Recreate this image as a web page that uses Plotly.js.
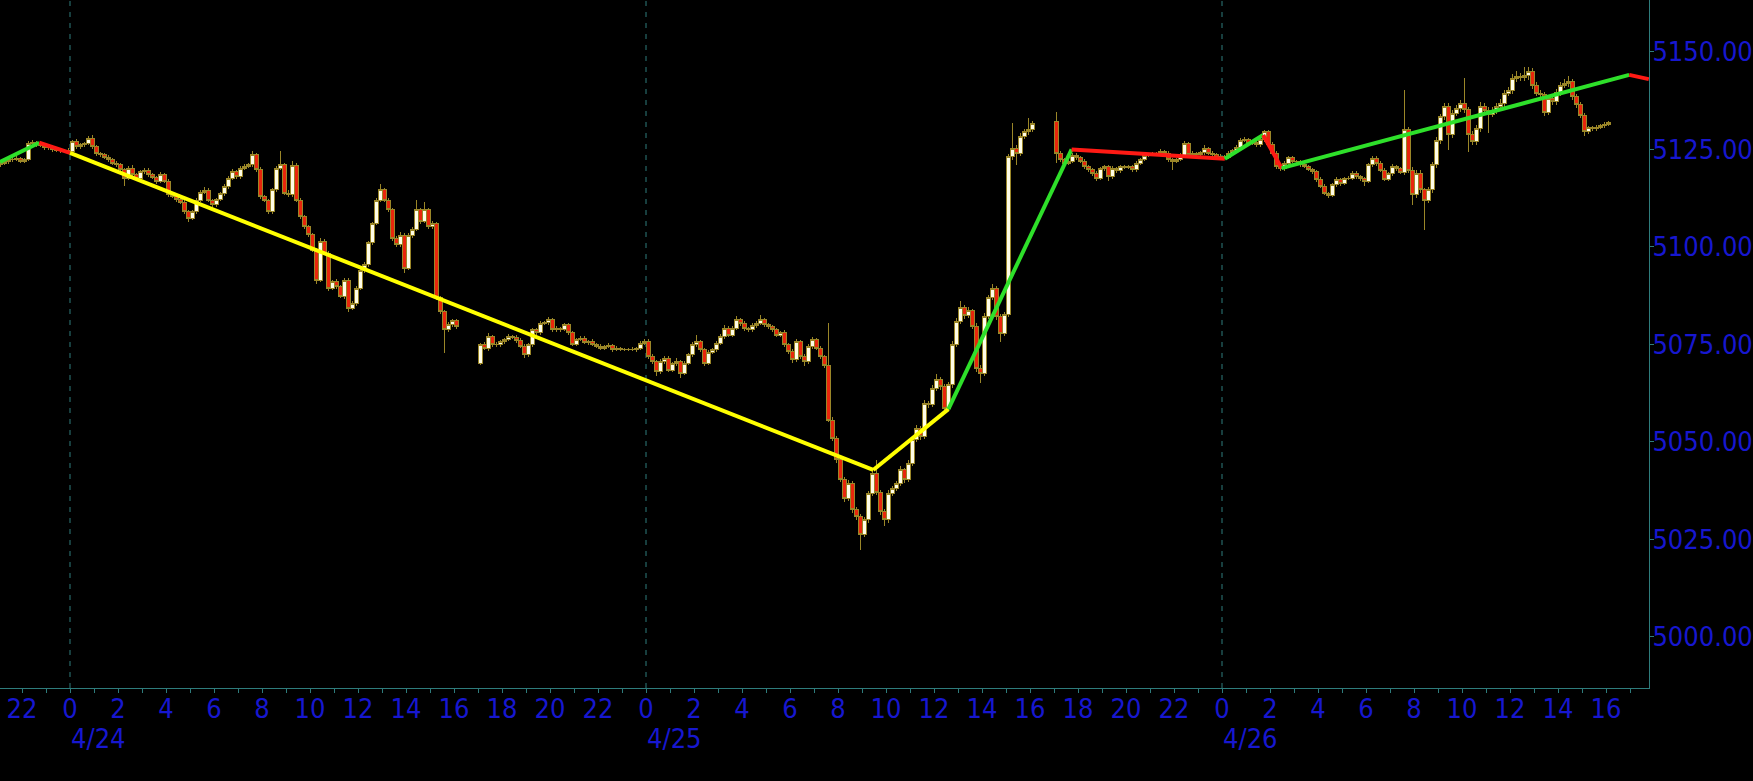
<!DOCTYPE html>
<html><head><meta charset="utf-8">
<script src="https://cdn.plot.ly/plotly-3.0.1.min.js"></script>
<style>html,body{margin:0;padding:0;background:#000;overflow:hidden}#chart{width:1753px;height:781px}
#chart .boxlayer path{shape-rendering:crispEdges}</style>
</head><body><div id="chart"></div>
<script>
// ---------- DATA (10-minute bars) ----------
const sessionAStart = '2024-04-23 21:00';
const sessionAOpen = 5121.0;
const sessionAClose = [
5121.5,5121.8,5122.3,5122.5,5122.7,5122.0,5122.3,5126.6,5126.8,5126.2,5126.0,5125.4,5125.6,5125.0,5124.8,5124.6,5124.8,5124.5,
5127.0,5125.7,5126.2,5126.5,5127.9,5125.7,5124.0,5123.6,5123.0,5122.3,
5121.5,5121.0,5119.8,5117.6,5120.2,5118.5,5117.6,5119.3,5119.7,5118.5,
5117.8,5116.8,5118.5,5116.8,5113.4,5113.0,5112.1,5111.5,5109.0,5107.4,
5109.0,5112.0,5114.0,5114.5,5112.0,5110.8,5112.1,5113.6,5115.5,5117.6,
5119.3,5118.0,5120.2,5120.6,5121.0,5123.6,5119.8,5112.9,5112.0,5109.0,
5114.6,5120.2,5121.0,5113.8,5113.4,5120.9,5112.0,5107.8,5105.2,5103.1,
5099.2,5091.5,5101.4,5098.4,5089.4,5091.0,5089.8,5087.3,5091.5,5084.3,
5085.5,5089.4,5094.0,5095.4,5101.0,5106.0,5112.0,5114.6,5112.0,5109.5,
5102.2,5100.5,5103.0,5094.5,5103.0,5104.5,5109.5,5106.5,5109.5,5105.2,
5106.0,5086.9,5083.4,5078.7,5080.0,5081.0,5079.5];
const sessionAUpWick = [
0.4,0.5,0.4,0.6,0.5,0.4,0.5,0.5,0.6,0.4,0.5,0.4,0.6,0.5,0.4,0.5,0.4,0.6,
0.5,0.6,0.4,0.5,0.5,0.8,0.5,0.4,0.6,0.5,
0.4,0.5,0.6,0.5,0.5,0.9,0.4,0.5,0.6,0.5,
0.5,0.4,0.6,0.5,0.5,0.6,0.4,0.5,0.6,0.5,
0.5,0.5,0.6,0.8,0.5,0.4,0.5,0.6,0.5,0.5,
0.6,0.5,0.5,0.6,0.5,0.9,0.5,0.6,0.5,0.4,
0.5,0.6,3.5,0.5,0.8,1.1,0.5,0.6,0.5,0.4,
0.5,0.6,0.8,0.5,0.6,0.5,0.8,0.5,0.6,0.5,
0.5,0.6,0.5,0.6,0.5,0.5,0.6,1.4,0.5,0.6,
0.5,0.6,0.8,0.5,0.5,0.6,2.5,0.5,2.0,0.5,
0.6,0.5,0.6,0.5,0.8,0.6,0.5];
const sessionADownWick = [
0.5,0.4,0.6,0.5,0.4,0.6,0.5,0.4,0.5,0.6,0.4,0.5,0.5,0.6,0.4,0.5,0.6,0.5,
0.4,0.5,0.6,0.5,0.4,0.5,0.6,0.5,0.4,0.5,
0.5,0.6,0.5,2.1,0.5,0.4,0.6,0.5,0.5,0.6,
0.5,0.6,0.5,0.5,0.6,0.5,0.5,0.6,0.6,0.9,
0.5,0.6,0.4,0.5,0.6,0.5,0.5,0.4,0.5,0.6,
0.5,0.6,0.5,0.4,0.5,0.6,0.5,0.6,0.5,0.5,
0.6,0.5,0.5,0.6,0.5,0.6,0.5,0.6,0.5,0.6,
0.6,1.0,0.5,0.6,0.8,0.5,0.6,0.5,0.6,0.9,
0.5,0.6,0.5,0.6,0.5,0.6,0.5,0.5,0.6,0.5,
0.6,0.5,0.6,1.2,0.5,0.6,0.5,0.6,0.5,0.6,
0.5,0.6,0.7,6.0,0.5,0.6,0.5];

const sessionBStart = '2024-04-24 17:00';
const sessionBOpen = 5070.2;
const sessionBClose = [
5074.9,5074.0,5077.0,5074.9,5074.9,5075.7,5076.2,5077.0,5076.8,5076.0,
5074.5,5072.3,5074.9,5078.7,5078.0,5080.4,5080.6,5081.3,5078.7,5079.0,
5078.8,5080.0,5078.0,5075.0,5076.2,5076.6,5075.5,5075.8,5074.9,5074.5,
5074.0,5074.5,5074.8,5073.6,5074.0,5073.8,5073.6,5073.8,5073.6,5074.0,
5075.3,5075.8,5071.9,5070.6,5068.0,5070.6,5071.4,5068.4,5070.0,5070.6,
5067.6,5070.2,5072.3,5074.9,5075.7,5073.6,5070.2,5073.0,5073.6,5075.3,
5077.0,5079.1,5077.4,5079.1,5081.3,5080.4,5079.0,5078.7,5079.9,5080.4,
5081.3,5080.0,5079.5,5078.7,5077.4,5078.0,5074.9,5073.2,5071.0,5075.7,
5071.9,5070.6,5074.5,5076.2,5074.0,5071.9,5069.7,5055.6,5051.0,5045.4,
5040.3,5035.6,5039.4,5032.6,5030.8,5026.2,5030.0,5036.8,5042.0,5037.0,
5032.1,5030.0,5036.8,5038.1,5039.4,5042.8,5040.3,5044.5,5050.5,5053.5,
5051.5,5059.9,5059.5,5063.8,5066.0,5064.2,5058.6,5064.6,5075.0,5080.9,
5084.5,5082.4,5083.6,5079.6,5068.9,5067.6,5082.2,5086.9,5089.4,5082.2,
5077.9,5082.6,5123.2,5125.3,5124.0,5128.3,5129.6,5130.0,5131.7];
const sessionBUpWick = [
0.5,0.6,0.9,0.5,0.6,0.5,0.4,0.6,0.5,0.5,
0.6,0.5,0.5,0.6,0.5,0.6,0.5,0.7,0.5,0.6,
0.5,0.6,0.5,0.4,0.5,0.6,0.5,0.4,0.5,0.4,
0.5,0.4,0.5,0.4,0.5,0.4,0.3,0.4,0.5,0.4,
0.5,0.7,0.5,0.6,0.5,0.6,0.5,0.6,0.5,1.0,
0.5,0.6,0.5,0.6,1.8,0.5,0.6,0.5,0.6,0.5,
0.6,0.9,0.5,0.6,1.0,0.5,0.6,0.5,0.6,0.5,
1.3,0.5,0.6,0.5,0.6,0.5,0.6,0.5,0.6,0.8,
0.5,0.6,0.5,0.8,0.5,0.6,0.5,10.7,0.8,0.6,
0.7,0.6,0.8,0.6,0.7,0.6,0.8,0.7,0.9,3.4,
0.6,0.7,0.8,0.6,0.7,1.0,0.6,0.8,0.7,0.9,
0.6,0.8,0.7,0.9,1.5,0.6,0.7,0.8,0.9,0.8,
1.5,0.7,1.0,0.6,0.8,0.7,0.9,0.8,1.1,0.7,
0.6,0.8,0.5,6.5,0.8,0.9,0.7,3.0,0.6];
const sessionBDownWick = [
0.5,0.5,0.6,0.5,0.5,0.6,0.5,0.4,0.5,0.6,
0.5,0.8,0.6,0.5,0.6,0.5,0.5,0.6,0.5,0.6,
0.5,0.4,0.6,0.5,0.5,0.4,0.5,0.6,0.4,0.5,
0.4,0.5,0.4,0.5,0.4,0.5,0.4,0.3,0.4,0.5,
0.4,0.5,0.6,0.5,1.0,0.6,0.5,0.6,0.5,0.6,
1.1,0.5,0.6,0.5,0.6,0.5,0.7,0.6,0.5,0.6,
0.5,0.6,0.5,0.6,0.5,0.6,0.5,0.6,0.5,0.6,
0.5,0.6,0.5,0.6,0.5,0.6,0.5,0.6,0.7,0.5,
0.6,1.2,0.5,0.6,0.5,0.6,0.7,0.5,0.8,0.7,
0.6,1.1,0.7,0.8,0.9,3.9,0.7,0.8,0.6,0.7,
0.8,1.5,0.7,0.6,0.8,0.7,0.9,0.7,0.8,0.6,
0.9,0.7,0.8,0.6,0.7,0.8,0.6,0.7,0.8,0.6,
0.7,0.8,0.6,0.7,0.9,2.6,0.7,0.8,0.6,0.9,
2.4,0.7,0.6,0.8,3.0,0.7,0.6,0.8,0.5];

const sessionCStart = '2024-04-25 17:00';
const sessionCOpen = 5132.1;
const sessionCClose = [
5124.0,5122.3,5121.5,5122.0,5123.5,5123.0,5122.0,5120.5,5119.8,5118.9,
5117.6,5120.0,5120.5,5118.0,5120.2,5119.5,5120.6,5120.4,5120.5,5119.8,
5121.5,5122.3,5123.5,5123.6,5123.8,5124.0,5124.5,5124.0,5122.3,5122.0,
5122.5,5123.5,5126.6,5123.6,5124.0,5123.8,5124.2,5125.2,5124.0,5123.6,
5123.0,5123.2,5123.0,5124.0,5124.8,5125.5,5127.4,5127.6,5126.6,5126.8,
5126.2,5127.5,5129.5,5126.2,5124.0,5120.6,5120.0,5121.5,5122.8,5121.8,
5121.8,5121.0,5120.6,5119.8,5119.3,5117.2,5115.5,5113.8,5113.2,5115.9,
5117.2,5116.3,5117.5,5117.6,5118.9,5118.1,5117.5,5116.8,5121.0,5122.7,
5121.3,5119.7,5117.4,5118.8,5120.6,5120.0,5119.2,5130.0,5119.7,5113.4,
5118.9,5114.6,5112.0,5114.6,5121.0,5127.4,5133.4,5135.9,5128.7,5134.3,
5135.5,5136.8,5135.1,5128.7,5127.0,5130.4,5136.0,5135.0,5134.0,5135.0,
5136.0,5136.8,5139.4,5140.2,5143.2,5143.7,5143.5,5144.0,5145.0,5141.5,
5139.4,5139.0,5134.5,5138.1,5137.2,5139.5,5141.5,5142.0,5142.3,5138.5,
5136.4,5133.8,5129.6,5130.5,5130.3,5130.6,5131.0,5131.5,5131.8];
const sessionCUpWick = [
2.6,0.5,0.6,0.5,0.6,0.5,0.4,0.5,0.6,0.5,
0.5,0.6,0.5,0.5,0.6,0.4,0.5,0.4,0.5,0.4,
0.5,0.6,0.5,0.4,0.5,0.4,0.5,0.4,0.5,0.5,
0.4,0.5,0.5,0.4,0.5,0.4,0.5,0.8,0.4,0.5,
0.4,0.5,0.4,0.5,0.4,0.5,0.6,0.5,0.4,0.5,
0.5,0.4,0.5,0.5,0.6,0.5,0.4,0.5,0.6,0.5,
0.4,0.5,0.4,0.5,0.4,0.5,0.6,0.5,0.4,0.5,
0.6,0.5,0.4,0.5,0.6,0.5,0.4,0.5,0.6,0.5,
0.5,0.6,0.5,0.4,0.6,0.5,0.6,10.3,0.8,0.7,
0.8,0.7,0.6,0.8,0.7,0.9,0.8,1.0,0.9,0.8,
1.0,0.9,6.4,0.8,0.9,0.8,1.1,0.9,0.8,0.9,
0.8,1.0,0.9,0.8,1.2,1.5,0.9,2.2,1.0,0.8,
0.9,0.8,0.7,0.9,0.8,0.9,0.8,1.0,1.5,0.8,
0.7,0.8,0.6,0.6,0.5,0.6,0.5,0.6,0.4];
const sessionCDownWick = [
2.5,0.6,0.5,0.6,0.5,0.6,0.5,0.6,0.5,0.6,
0.8,0.5,0.6,1.0,0.5,0.6,0.5,0.4,0.5,0.6,
0.6,0.5,0.4,0.5,0.4,0.5,0.4,0.5,0.6,2.3,
0.5,0.4,0.5,0.6,0.5,0.4,0.5,0.6,0.5,0.4,
0.5,0.4,0.5,0.4,0.5,0.6,0.5,0.4,0.5,0.6,
0.5,0.6,0.5,0.6,0.5,0.6,0.5,0.6,0.5,0.4,
0.5,0.6,0.5,0.4,0.5,0.6,0.5,0.6,0.7,0.5,
0.5,0.6,0.5,0.4,0.5,0.6,0.5,1.3,0.5,0.6,
0.5,0.6,0.6,0.5,0.6,0.5,0.6,0.7,0.8,2.6,
0.9,0.8,7.6,0.8,0.9,0.8,0.9,0.8,3.8,0.9,
0.8,0.9,0.8,4.3,0.9,0.8,0.9,1.0,4.9,0.8,
0.9,0.8,0.9,0.8,0.9,0.8,1.0,0.9,1.2,0.9,
0.8,0.9,1.0,0.8,0.9,0.8,0.9,0.8,0.9,0.8,
0.7,0.8,1.1,0.6,0.5,0.6,0.5,0.4,0.5];

// zigzag overlay
const zzTime = ['2024-04-23 21:05','2024-04-23 22:43','2024-04-24 00:00','2024-04-25 09:28','2024-04-25 12:36',
                '2024-04-25 17:44','2024-04-26 00:07','2024-04-26 01:43','2024-04-26 02:29','2024-04-26 16:58','2024-04-26 17:47'];
const zzValue = [5121.8,5126.7,5124.1,5042.8,5058.4,5125.0,5122.6,5128.7,5120.2,5144.1,5143.0];
const zzColor = ['green','red','yellow','yellow','green','red','green','red','green','red'];

const dayStarts = ['2024-04-24 00:00','2024-04-25 00:00','2024-04-26 00:00'];
const dayLabels = ['4/24','4/25','4/26'];
const yTicks = [5000,5025,5050,5075,5100,5125,5150];

// ---------- BUILD ----------
const BAR_MS = 10*60*1000;
function pad(n){return (n<10?'0':'')+n;}
function parse(s){const p=s.split(' ');const d=p[0].split('-').map(Number);const t=p[1].split(':').map(Number);return Date.UTC(d[0],d[1]-1,d[2],t[0],t[1]);}
function fmt(ms){const d=new Date(ms);return d.getUTCFullYear()+'-'+pad(d.getUTCMonth()+1)+'-'+pad(d.getUTCDate())+' '+pad(d.getUTCHours())+':'+pad(d.getUTCMinutes());}

const ohlc = {x:[],open:[],high:[],low:[],close:[]};
function addSession(start, open0, close, up, dn){
  let o = open0; const t0 = parse(start);
  for (let i=0;i<close.length;i++){
    const c = close[i];
    ohlc.x.push(fmt(t0 + i*BAR_MS));
    ohlc.open.push(o); ohlc.close.push(c);
    ohlc.high.push(Math.max(o,c) + (up[i]||0));
    ohlc.low.push(Math.min(o,c) - (dn[i]||0));
    o = c;
  }
}
addSession(sessionAStart, sessionAOpen, sessionAClose, sessionAUpWick, sessionADownWick);
addSession(sessionBStart, sessionBOpen, sessionBClose, sessionBUpWick, sessionBDownWick);
addSession(sessionCStart, sessionCOpen, sessionCClose, sessionCUpWick, sessionCDownWick);

const wickColor = '#9A8628';
const traces = [{
  type:'candlestick', x:ohlc.x, open:ohlc.open, high:ohlc.high, low:ohlc.low, close:ohlc.close,
  xperiod: BAR_MS, xperiodalignment:'middle',
  increasing:{line:{color:wickColor,width:1}, fillcolor:'#FFFDE8'},
  decreasing:{line:{color:wickColor,width:1}, fillcolor:'#E8260C'},
  whiskerwidth:0, hoverinfo:'skip'
}];
const colorMap = {yellow:'#FFFF00', green:'#2EE02A', red:'#FF1A14'};
for (let k=0;k<zzColor.length;k++){
  traces.push({type:'scatter', mode:'lines', x:[zzTime[k],zzTime[k+1]], y:[zzValue[k],zzValue[k+1]],
    line:{color:colorMap[zzColor[k]], width:4}, hoverinfo:'skip'});
}

const axisColor = '#2E7C7C';
const labelFont = {family:'DejaVu Sans Condensed, DejaVu Sans, sans-serif', size:27, color:'#1717CF'};
const layout = {
  width:1753, height:781, margin:{l:0,r:104,t:0,b:93,pad:0},
  paper_bgcolor:'#000000', plot_bgcolor:'#000000', showlegend:false,
  boxgap:0, boxgroupgap:0,
  xaxis:{type:'date', range:['2024-04-23 21:05','2024-04-26 17:47:30'],
    showgrid:false, zeroline:false, showline:true, linecolor:axisColor, linewidth:1,
    ticks:'outside', ticklen:4, tickcolor:axisColor, tick0:'2024-04-23 22:00', dtick:7200000, tickformat:'%-H',
    tickfont:labelFont, ticklabelstandoff:-7,
    minor:{tick0:'2024-04-23 22:00', dtick:3600000, ticks:'outside', ticklen:4, tickcolor:axisColor, showgrid:false},
    rangeslider:{visible:false}, fixedrange:true},
  yaxis:{side:'right', range:[4986.9,5163.3], tickvals:yTicks, tickformat:'.3f',
    showgrid:false, zeroline:false, showline:true, linecolor:axisColor, linewidth:1,
    ticks:'outside', ticklen:4, tickcolor:axisColor, tickfont:labelFont, ticklabelstandoff:-7, fixedrange:true},
  shapes: dayStarts.map(d => ({type:'line', layer:'below', xref:'x', yref:'paper', x0:d, x1:d, y0:0, y1:1,
    line:{color:axisColor, width:1, dash:'5px,6px'}})),
  annotations: dayStarts.map((d,k) => ({x:d, xref:'x', y:-0.073, yref:'paper', xanchor:'left', yanchor:'middle',
    text:dayLabels[k], showarrow:false, font:labelFont, borderpad:0}))
};
Plotly.newPlot('chart', traces, layout, {displayModeBar:false, staticPlot:true});
</script></body></html>
